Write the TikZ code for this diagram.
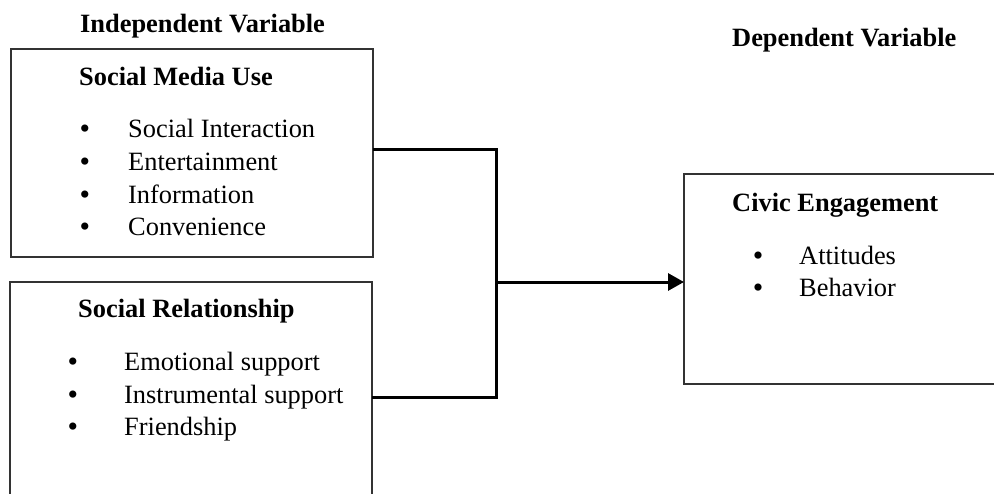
\documentclass[tikz,border=0pt]{standalone}
\usepackage{fontspec}
\setmainfont{Liberation Serif}
\usetikzlibrary{arrows.meta}
\begin{document}
\begin{tikzpicture}[x=1pt,y=-1pt,
  box/.style={draw=black!80,line width=1.3pt,minimum width=#1,inner sep=0pt,outer sep=0pt},
  conn/.style={line width=3pt,draw=black},
  lbl/.style={anchor=base west,inner sep=0pt,font=\fontsize{26.4}{33}\selectfont},
  hd/.style={anchor=base west,inner sep=0pt,font=\fontsize{26.4}{33}\selectfont\bfseries},
  bul/.style={anchor=base,inner sep=0pt,yshift=-1pt,font=\fontsize{30}{33}\selectfont}]
\useasboundingbox (0,0) rectangle (994,493);
\clip (0,0) rectangle (994,493);
% headings
\node[hd] (iv) at (80,32) {Independent Variable};
\node[hd] (dv) at (732,46) {Dependent Variable};
% boxes
\node[box=362pt,minimum height=208pt] (smu) at (192,153) {};
\node[box=362pt,minimum height=230pt] (sr) at (191,397) {};
\node[box=326pt,minimum height=210pt] (ce) at (847,279) {};
% box 1 text
\node[hd] (t1) at (79,85) {Social Media Use};
\node[bul] (b11) at (85,137) {•};
\node[bul] (b12) at (85,170) {•};
\node[bul] (b13) at (85,203) {•};
\node[bul] (b14) at (85,235) {•};
\node[lbl] (i11) at (128,137) {Social Interaction};
\node[lbl] (i12) at (128,170) {Entertainment};
\node[lbl] (i13) at (128,203) {Information};
\node[lbl] (i14) at (128,235) {Convenience};
% box 2 text
\node[hd] (t2) at (78,317) {Social Relationship};
\node[bul] (b21) at (73,370) {•};
\node[bul] (b22) at (73,403) {•};
\node[bul] (b23) at (73,435) {•};
\node[lbl] (i21) at (124,370) {Emotional support};
\node[lbl] (i22) at (124,403) {Instrumental support};
\node[lbl] (i23) at (124,435) {Friendship};
% box 3 text
\node[hd] (t3) at (732,211) {Civic Engagement};
\node[bul] (b31) at (758,264) {•};
\node[bul] (b32) at (758,296) {•};
\node[lbl] (i31) at (799,264) {Attitudes};
\node[lbl] (i32) at (799,296) {Behavior};
% connectors
\coordinate (j) at (496,282);
\draw[conn] ([yshift=4pt]smu.east) -| (j);
\draw[conn] (sr.east) -| (j);
\draw[conn,-{Triangle[length=16pt,width=17pt]}] (j) -- ([yshift=-3pt]ce.west);
\end{tikzpicture}
\end{document}
